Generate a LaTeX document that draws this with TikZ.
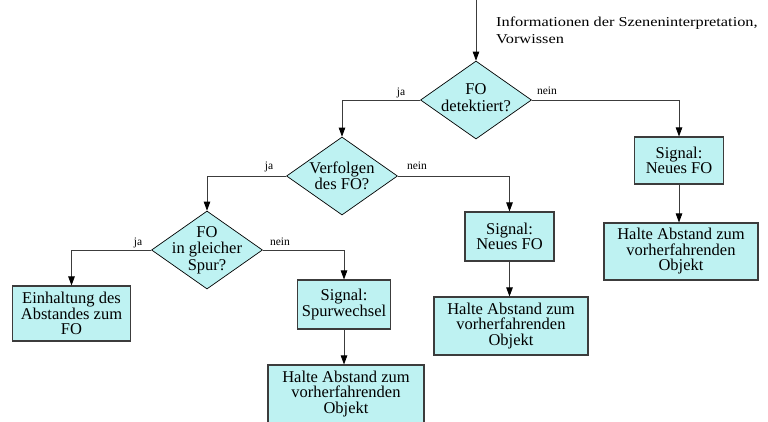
\documentclass[tikz,border=0pt]{standalone}
\usepackage{fontspec}
\setmainfont{Liberation Serif}
\newfontfamily\toplabelfont{Liberation Serif}[FakeStretch=1.2]
\usetikzlibrary{shapes.geometric,arrows.meta,calc}
\definecolor{boxfill}{RGB}{190,242,242}
\definecolor{edgegray}{RGB}{60,60,60}
\begin{document}
\begin{tikzpicture}[x=1pt,y=-1pt,
  box/.style={draw=edgegray, line width=1.1pt, fill=boxfill, align=center, inner sep=0pt,
    font=\fontsize{16.5}{15.5}\selectfont},
  dia/.style={draw=black, line width=0.7pt, fill=boxfill, diamond, inner sep=0pt,
    minimum width=111pt, minimum height=78pt},
  dtext/.style={align=center, inner sep=0pt, font=\fontsize{16.5}{16.5}\selectfont},
  lab/.style={font=\fontsize{11.5}{12}\selectfont, anchor=base, inner sep=0pt},
  toptext/.style={font=\toplabelfont\fontsize{13.6}{17}\selectfont, anchor=base west, inner sep=0pt},
  conn/.style={draw=edgegray, line width=0.8pt, -{Triangle[length=9pt,width=6.5pt,color=black]}}]
\useasboundingbox (0,0) rectangle (768,421);
\clip (0,0) rectangle (768,421);

% input
\coordinate (in) at (476,0);
\node[toptext] (t1) at (496,26.7) {Informationen der Szeneninterpretation,};
\node[toptext] (t2) at (496,43.5) {Vorwissen};

% diamonds
\node[dia] (d1) at (476,100) {};
\node[dtext] (d1t) at (476,97.5) {FO\\detektiert?};
\node[dia] (d2) at (342,176) {};
\node[dtext] (d2t) at (342,176) {Verfolgen\\des FO?};
\node[dia] (d3) at (207,250) {};
\node[dtext] (d3t) at (207,250) {FO\\in gleicher\\Spur?};

% boxes
\node[box, minimum width=89pt, minimum height=47pt] (n1) at (679,160.5) {Signal:\\Neues FO};
\node[box, minimum width=154pt, minimum height=57pt] (h3) at (681,251.5) {Halte Abstand zum\\vorherfahrenden\\Objekt};
\node[box, minimum width=89pt, minimum height=49pt] (n2) at (509.5,236.5) {Signal:\\Neues FO};
\node[box, minimum width=154pt, minimum height=58pt] (h2) at (511,326) {Halte Abstand zum\\vorherfahrenden\\Objekt};
\node[box, minimum width=118pt, minimum height=55pt] (e) at (71.5,313.5) {Einhaltung des\\Abstandes zum\\FO};
\node[box, minimum width=93pt, minimum height=49pt] (s) at (344,304.5) {Signal:\\Spurwechsel};
\node[box, minimum width=156pt, minimum height=58pt] (h1) at (346,394) {Halte Abstand zum\\vorherfahrenden\\Objekt};

% connectors
\draw[conn] (in) -- (d1.north);
\draw[conn] (d1.west) -| (d2.north);
\draw[conn] (d1.east) -| (n1.north);
\draw[conn] (n1.south) -- (n1.south |- h3.north);
\draw[conn] (d2.west) -| (d3.north);
\draw[conn] (d2.east) -| (n2.north);
\draw[conn] (n2.south) -- (n2.south |- h2.north);
\draw[conn] (d3.west) -| (e.north);
\draw[conn] (d3.east) -| (s.north);
\draw[conn] (s.south) -- (s.south |- h1.north);

% branch labels
\node[lab] (l1) at (401,95) {ja};
\node[lab] (l2) at (547,94) {nein};
\node[lab] (l3) at (269,169) {ja};
\node[lab] (l4) at (417,169) {nein};
\node[lab] (l5) at (138,245) {ja};
\node[lab] (l6) at (280,245) {nein};
\end{tikzpicture}
\end{document}
